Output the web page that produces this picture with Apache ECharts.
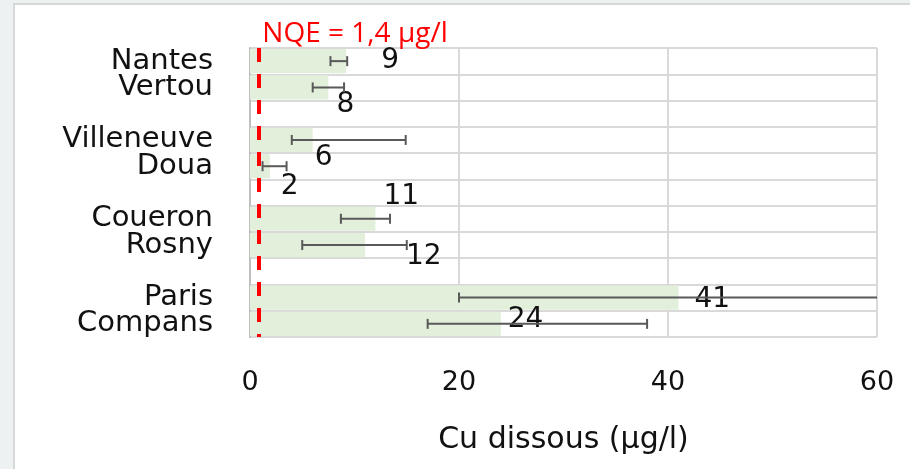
<!DOCTYPE html>
<html>
<head>
<meta charset="utf-8">
<script src="https://cdn.jsdelivr.net/npm/echarts@6/dist/echarts.min.js"></script>
<style>html,body{margin:0;padding:0;background:#eef1f1;}#c{width:910px;height:469px;}</style>
</head>
<body>
<div id="c"></div>
<script>
// ---- data ----
const categories = ['Nantes', 'Vertou', ' ', 'Villeneuve', 'Doua', '  ', 'Coueron', 'Rosny', '   ', 'Paris', 'Compans'];
const cuValues   = [9.2, 7.5, null, 6.0, 1.9, null, 12.0, 11.0, null, 41.0, 24.0];
const errLow     = [7.7, 6.0, null, 4.0, 1.2, null, 8.7, 5.0, null, 20.0, 17.0];
const errHigh    = [9.3, 9.0, null, 14.9, 3.5, null, 13.4, 15.0, null, 62.0, 38.0];
const labelTexts = ['9', '8', '', '6', '2', '', '11', '12', '', '41', '24'];
const xTicks     = [0, 20, 40, 60];
const nqeText    = 'NQE = 1,4 µg/l';
const nqeDrawnAt = 0.8;

// ---- styling ----
const labelOffsets = [[35,0],[8,17],[0,0],[2,18],[11,20],[0,0],[8,-22],[41,12],[0,0],[16,2],[7,-4]];

const barData = cuValues.map((v, i) => ({
  value: v,
  label: {
    show: v !== null,
    formatter: labelTexts[i],
    offset: labelOffsets[i]
  }
}));

const errData = [];
categories.forEach((c, i) => {
  if (errLow[i] !== null) errData.push([errLow[i], errHigh[i], i]);
});

const chart = echarts.init(document.getElementById('c'));
chart.setOption({
  backgroundColor: '#eef1f1',
  animation: false,
  graphic: [{
    type: 'rect', z: -100, silent: true,
    shape: { x: 14, y: 4, width: 910, height: 480 },
    style: { fill: '#ffffff', stroke: '#d6d8d8', lineWidth: 2 }
  }],
  grid: { left: 250, right: 33, top: 48, bottom: 132 },
  xAxis: {
    type: 'value', min: xTicks[0], max: xTicks[xTicks.length - 1], interval: 20,
    axisLine: { show: false }, axisTick: { show: false },
    splitLine: { show: true, lineStyle: { color: '#d9d9d9', width: 2 } },
    axisLabel: { fontSize: 27, fontFamily: 'DejaVu Sans', color: '#111', margin: 32 },
    name: 'Cu dissous (µg/l)', nameLocation: 'middle', nameGap: 88,
    nameTextStyle: { fontSize: 30, fontFamily: 'DejaVu Sans', color: '#111' }
  },
  yAxis: {
    type: 'category', data: categories, inverse: true,
    axisLine: { show: true, lineStyle: { color: '#bfbfbf', width: 2 } },
    axisTick: { show: false },
    splitLine: { show: true, interval: 0, lineStyle: { color: '#d9d9d9', width: 2 } },
    axisLabel: { interval: 0, hideOverlap: false, fontSize: 29, fontFamily: 'DejaVu Sans', color: '#111', margin: 37 }
  },
  series: [{
    type: 'bar',
    data: barData,
    barCategoryGap: '8%',
    itemStyle: { color: '#e2efda' },
    label: {
      position: 'right', distance: 0,
      fontSize: 28, fontFamily: 'DejaVu Sans', color: '#111'
    },
    markLine: {
      silent: true, symbol: 'none',
      lineStyle: { color: '#ff0000', width: 4, type: [14, 12] },
      data: [{ xAxis: nqeDrawnAt }],
      label: {
        show: true, position: 'start', formatter: nqeText,
        color: '#ff0000', fontSize: 28, fontFamily: 'Open Sans',
        align: 'left', distance: 0, offset: [4, 0]
      }
    },
    z: 2
  }, {
    type: 'custom',
    data: errData,
    encode: { x: [0, 1], y: 2 },
    z: 3,
    renderItem: function (params, api) {
      const lo = api.value(0), hi = api.value(1), idx = api.value(2);
      const p1 = api.coord([lo, idx]);
      const p2 = api.coord([hi, idx]);
      const cs = params.coordSys;
      const xmax = cs.x + cs.width;
      const x2 = Math.min(p2[0], xmax);
      const h = 5;
      const st = { stroke: '#595959', lineWidth: 2 };
      const children = [
        { type: 'line', shape: { x1: p1[0], y1: p1[1], x2: x2, y2: p1[1] }, style: st },
        { type: 'line', shape: { x1: p1[0], y1: p1[1] - h, x2: p1[0], y2: p1[1] + h }, style: st }
      ];
      if (p2[0] <= xmax) {
        children.push({ type: 'line', shape: { x1: p2[0], y1: p2[1] - h, x2: p2[0], y2: p2[1] + h }, style: st });
      }
      return { type: 'group', children: children };
    }
  }]
});
</script>
</body>
</html>
